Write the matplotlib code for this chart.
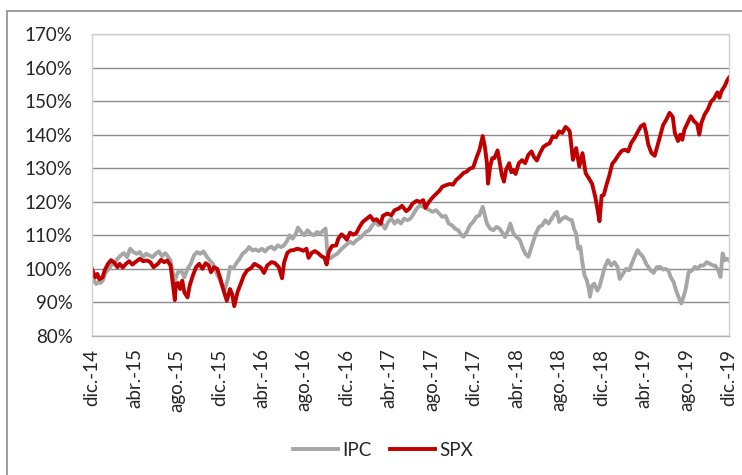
import matplotlib
matplotlib.use("Agg")
import matplotlib.pyplot as plt
import matplotlib.patches as mpatches
from matplotlib.ticker import FuncFormatter

# ---------- data (x = months since dic.-14, y = % of start) ----------
spx_t = [0, 0.3, 0.5, 0.7, 1.0, 1.2, 1.5, 1.8, 2.1, 2.4, 2.6, 2.9, 3.2, 3.5, 3.8,
         4.2, 4.5, 4.8, 5.2, 5.5, 5.8, 6.2, 6.5, 6.8, 7.1, 7.4, 7.6, 7.8, 7.9, 8.1,
         8.3, 8.5, 8.7, 9.0, 9.2, 9.5, 9.8, 10.1, 10.4, 10.7, 11.0, 11.2, 11.5, 11.8,
         12.1, 12.4, 12.7, 13.0, 13.2, 13.4, 13.7, 14.0, 14.3, 14.6, 15.0, 15.3, 15.6,
         15.9, 16.2, 16.5, 16.9, 17.2, 17.6, 17.9, 18.1, 18.4, 18.7, 19.0, 19.3, 19.6,
         19.9, 20.2, 20.4, 20.7, 21.0, 21.3, 21.6, 21.9, 22.1, 22.3, 22.6, 23.0, 23.2,
         23.5, 23.8, 24.0, 24.3, 24.6, 24.9, 25.2, 25.5, 25.9, 26.2, 26.5, 26.8, 27.2,
         27.4, 27.8, 28.2, 28.5, 28.9, 29.2, 29.6, 29.9, 30.2, 30.6, 30.9, 31.2, 31.4,
         31.7, 32.0, 32.3, 32.7, 33.0, 33.4, 33.7, 34.0, 34.3, 34.6, 35.0, 35.3, 35.6,
         35.9, 36.2, 36.5, 36.8, 37.0, 37.2, 37.3, 37.5, 37.7, 37.9, 38.2, 38.4, 38.6,
         38.8, 39.0, 39.3, 39.5, 39.7, 39.9, 40.2, 40.5, 40.8, 41.1, 41.4, 41.6, 41.9,
         42.2, 42.5, 42.8, 43.1, 43.4, 43.7, 44.0, 44.3, 44.6, 44.8, 45.0, 45.3, 45.6,
         45.9, 46.2, 46.5, 46.8, 47.1, 47.4, 47.6, 47.8, 48.0, 48.2, 48.5, 48.7, 49.0,
         49.3, 49.6, 49.9, 50.2, 50.5, 50.8, 51.1, 51.4, 51.7, 52.0, 52.2, 52.4, 52.7,
         53.0, 53.2, 53.5, 53.8, 54.1, 54.4, 54.7, 54.9, 55.2, 55.4, 55.6, 55.8, 56.1,
         56.4, 56.7, 57.0, 57.2, 57.4, 57.7, 58.0, 58.3, 58.6, 58.9, 59.1, 59.3, 59.6,
         59.8, 60.0]
spx = [100, 97.5, 98.5, 96.9, 97.5, 99.6, 101.5, 102.6, 101.8, 100.5, 101.5, 100.4,
       101.5, 102.3, 101.3, 102.3, 103.0, 102.3, 102.5, 102.0, 100.5, 101.5, 102.7,
       102.0, 102.5, 101.0, 96.0, 90.7, 95.5, 95.8, 94.0, 96.5, 93.0, 91.5, 95.0, 98.0,
       100.5, 101.5, 100.0, 101.7, 101.0, 99.0, 100.5, 100.0, 97.0, 93.5, 90.5, 94.0,
       92.5, 88.9, 93.0, 95.5, 98.0, 99.5, 100.3, 101.5, 101.0, 100.4, 98.8, 101.0,
       102.0, 101.8, 100.5, 97.2, 102.0, 104.8, 105.5, 105.6, 106.0, 105.8, 105.4,
       106.0, 103.3, 104.8, 105.3, 104.7, 103.8, 103.3, 101.3, 105.0, 106.8, 107.0,
       109.0, 110.3, 109.5, 108.7, 110.8, 110.2, 110.7, 112.5, 114.0, 115.0, 115.8,
       114.5, 114.8, 113.5, 115.8, 116.5, 116.0, 117.5, 118.0, 118.8, 117.2, 118.0,
       119.5, 120.3, 119.9, 120.5, 118.2, 119.8, 121.0, 122.0, 123.2, 124.5, 125.0,
       125.3, 125.1, 126.5, 127.3, 128.6, 129.0, 129.9, 130.2, 133.0, 135.5, 139.6,
       136.5, 131.5, 125.4, 130.5, 133.0, 133.0, 135.3, 131.8, 128.0, 126.0, 129.5,
       131.5, 128.8, 129.5, 128.3, 131.5, 132.4, 131.5, 134.0, 135.0, 133.5, 132.3,
       134.5, 136.3, 137.0, 137.4, 139.5, 139.2, 141.0, 140.5, 142.3, 141.8, 141.0,
       132.5, 136.0, 130.5, 134.5, 128.5, 127.0, 125.4, 121.5, 118.0, 114.2, 121.8,
       122.0, 125.5, 127.5, 131.3, 132.5, 134.0, 135.2, 135.5, 135.0, 137.6, 139.0,
       140.8, 142.5, 143.1, 140.5, 137.0, 134.5, 133.7, 136.0, 139.5, 142.9, 144.5,
       146.5, 145.3, 140.5, 138.1, 140.0, 138.5, 141.5, 143.5, 145.5, 144.0, 143.2,
       140.0, 143.5, 146.0, 147.5, 149.8, 150.8, 152.6, 151.0, 153.0, 154.5, 156.0,
       157.0]

ipc_t = [0, 0.2, 0.4, 0.6, 0.8, 1.0, 1.3, 1.5, 1.8, 2.1, 2.4, 2.7, 3.0, 3.3, 3.6,
         3.9, 4.2, 4.5, 4.8, 5.1, 5.4, 5.7, 6.0, 6.3, 6.6, 6.9, 7.2, 7.4, 7.6, 7.8,
         8.1, 8.4, 8.7, 9.0, 9.3, 9.6, 9.9, 10.2, 10.5, 10.8, 11.1, 11.4, 11.7, 12.0,
         12.3, 12.5, 12.8, 13.0, 13.3, 13.6, 13.9, 14.2, 14.5, 14.8, 15.1, 15.4, 15.7,
         16.0, 16.3, 16.6, 16.9, 17.2, 17.5, 17.8, 18.1, 18.4, 18.6, 18.9, 19.2, 19.4,
         19.7, 20.0, 20.3, 20.6, 20.9, 21.2, 21.5, 21.8, 22.0, 22.2, 22.5, 22.8, 23.1,
         23.4, 23.7, 24.0, 24.3, 24.6, 24.9, 25.2, 25.5, 25.8, 26.1, 26.4, 26.7, 27.0,
         27.3, 27.6, 27.9, 28.2, 28.5, 28.8, 29.1, 29.4, 29.7, 30.0, 30.3, 30.6, 30.9,
         31.2, 31.5, 31.8, 32.1, 32.4, 32.7, 33.0, 33.3, 33.6, 33.9, 34.2, 34.5, 34.8,
         35.0, 35.3, 35.6, 35.9, 36.2, 36.5, 36.8, 37.0, 37.2, 37.5, 37.8, 38.1, 38.4,
         38.7, 38.9, 39.2, 39.4, 39.7, 40.0, 40.3, 40.6, 40.8, 41.1, 41.3, 41.5, 41.8,
         42.1, 42.4, 42.7, 43.0, 43.3, 43.6, 43.8, 44.0, 44.3, 44.6, 44.9, 45.2, 45.4,
         45.6, 45.8, 46.0, 46.2, 46.4, 46.6, 46.8, 46.9, 47.1, 47.3, 47.6, 47.8, 48.0,
         48.3, 48.6, 48.9, 49.2, 49.5, 49.7, 50.0, 50.3, 50.6, 50.9, 51.1, 51.4, 51.6,
         51.9, 52.2, 52.6, 52.9, 53.2, 53.5, 53.8, 54.0, 54.3, 54.5, 54.8, 54.9, 55.2,
         55.5, 55.7, 55.9, 56.2, 56.5, 56.8, 57.0, 57.3, 57.6, 57.9, 58.2, 58.5, 58.7,
         59.0, 59.2, 59.4, 59.6, 59.8, 60.0]
ipc = [98.0, 96.5, 95.5, 96.0, 95.8, 96.5, 99.0, 99.6, 101.0, 101.7, 103.0, 104.0,
       104.7, 103.5, 106.0, 105.0, 104.5, 105.0, 103.5, 104.5, 104.0, 103.5, 104.5,
       105.2, 103.8, 104.7, 103.5, 102.5, 99.0, 96.5, 99.0, 99.5, 97.5, 100.0, 101.5,
       104.0, 105.0, 104.5, 105.2, 103.7, 102.5, 101.5, 99.0, 97.0, 94.5, 93.7, 97.0,
       100.6, 100.2, 101.7, 103.0, 104.6, 105.3, 106.5, 105.5, 105.8, 105.3, 106.0,
       105.2, 106.2, 106.6, 105.8, 107.0, 106.5, 107.0, 108.5, 110.0, 109.0, 110.5,
       112.3, 111.0, 110.0, 111.5, 110.5, 110.0, 111.0, 110.5, 111.5, 112.0, 103.5,
       103.2, 104.0, 104.5, 105.6, 106.5, 107.3, 108.1, 107.5, 108.5, 109.1, 110.0,
       111.0, 111.5, 113.0, 114.0, 113.0, 113.5, 112.0, 114.0, 115.0, 113.5, 114.5,
       113.5, 115.0, 114.5, 115.0, 116.5, 118.0, 119.0, 118.5, 118.0, 117.5, 117.0,
       117.5, 116.5, 115.5, 115.8, 113.5, 113.0, 112.0, 111.5, 110.0, 109.6, 111.0,
       113.0, 114.0, 115.5, 116.0, 118.5, 116.0, 113.5, 112.0, 111.5, 112.5, 112.0,
       110.5, 109.5, 111.5, 113.5, 110.5, 109.5, 108.6, 106.0, 104.6, 103.6, 105.5,
       107.6, 110.5, 112.5, 113.0, 114.5, 113.5, 115.0, 116.5, 117.0, 114.0, 115.0,
       115.5, 114.8, 114.5, 112.0, 110.5, 106.0, 106.6, 101.6, 98.0, 96.7, 94.0, 91.7,
       95.0, 95.6, 93.5, 94.7, 97.0, 100.6, 102.6, 101.0, 102.0, 100.6, 97.0, 98.5,
       100.0, 99.6, 102.0, 103.6, 105.6, 104.6, 103.6, 101.5, 99.6, 98.8, 100.5,
       100.6, 99.8, 100.0, 99.5, 97.6, 96.0, 94.7, 92.0, 89.7, 91.5, 93.7, 99.0,
       99.5, 100.6, 100.0, 101.0, 101.0, 102.0, 101.5, 101.0, 101.0, 99.5, 97.6,
       104.6, 102.6, 103.0, 102.5]

tick_months = list(range(0, 61, 4))
tick_labels = ["dic.-14", "abr.-15", "ago.-15", "dic.-15", "abr.-16", "ago.-16",
               "dic.-16", "abr.-17", "ago.-17", "dic.-17", "abr.-18", "ago.-18",
               "dic.-18", "abr.-19", "ago.-19", "dic.-19"]

# ---------- plot ----------
plt.rcParams['font.family'] = ['Lato', 'DejaVu Sans']
W, H = 742, 475
fig = plt.figure(figsize=(W / 100, H / 100), dpi=100)
ax = fig.add_axes([92 / W, 1 - 336 / H, 637 / W, 302 / H])

ax.plot(ipc_t, ipc, color="#a6a6a6", lw=2.8, label="IPC", solid_joinstyle="round")
ax.plot(spx_t, spx, color="#c00000", lw=2.8, label="SPX", solid_joinstyle="round")

ax.set_xlim(0, 60)
ax.set_ylim(80, 170)
ax.set_yticks(range(80, 171, 10))
ax.yaxis.set_major_formatter(FuncFormatter(lambda v, p: f"{v:.0f}%"))
ax.set_xticks(tick_months)
ax.set_xticklabels(tick_labels, rotation=90)
ax.tick_params(axis='y', length=0, pad=14, labelsize=13.5, colors='#262626')
ax.tick_params(axis='x', length=0, pad=9, labelsize=13.5, colors='#262626')
ax.grid(True, axis='y', color='#8c8c8c', lw=1)
ax.set_axisbelow(True)
for s in ax.spines.values():
    s.set_color('#d0d0d0'); s.set_linewidth(1)
ax.spines['bottom'].set_color('#b0b0b0')

leg = fig.legend(loc='center', bbox_to_anchor=(383 / W, 1 - 450 / H), ncol=2,
                 frameon=False, fontsize=13.5, handlelength=2.4, handletextpad=0.2,
                 columnspacing=1.0)
for t in leg.get_texts():
    t.set_color('#262626')

# outer chart border
fig.patches.append(mpatches.Rectangle((7 / W, -0.1), 1.2, (H - 11) / H + 0.1,
                                      transform=fig.transFigure, fill=False,
                                      edgecolor='#8c8c8c', lw=1.2))

fig.savefig("out.png", dpi=100)
